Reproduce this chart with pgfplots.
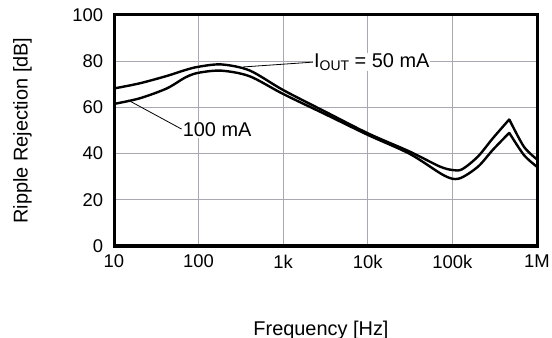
\documentclass[border=0pt]{standalone}
\usepackage{fontspec}
\setmainfont{Liberation Sans}
\usepackage{pgfplots}
\pgfplotsset{compat=1.18}
\definecolor{gridgray}{RGB}{168,168,178}
\begin{document}
\fontsize{20}{24}\selectfont
\begin{tikzpicture}
\useasboundingbox (-114bp,-92bp) rectangle (438bp,246bp);
\begin{axis}[
  at={(0,0)}, anchor=south west,
  scale only axis, width=423bp, height=231bp,
  xmode=log, xmin=10, xmax=1e6, ymin=0, ymax=100,
  xtick={10,100,1000,10000,100000,1000000},
  xticklabels={10,100,1k,10k,100k,1M},
  ytick={0,20,40,60,80,100},
  grid=major,
  major grid style={draw=gridgray, line width=1.2bp},
  major tick length=0.5bp, minor tick length=0.5bp,
  axis line style={line width=3bp},
  /pgf/number format/assume math mode=true,
  ticklabel style={font=\fontsize{18.5}{22}\selectfont},
  xticklabel style={yshift=-2bp},
  yticklabel style={xshift=-4bp},
  clip=false,
]
\addplot[black, line width=2.4bp, smooth, tension=0.5, line join=round] coordinates {
(10,68.2) (20,70.4) (42,73.6) (70,76.2) (100,77.6) (186,78.6) (400,76) (1000,67.5)
(3162,58.1) (10000,48.8) (31623,40.8) (70000,34.5) (100000,32.9) (130000,33.2)
(200000,38.7) (300000,46.6) (470000,54.8)};
\addplot[black, line width=2.4bp, smooth, tension=0.5, line cap=round] coordinates {
(470000,54.8) (700000,43) (1000000,37.5)};
\addplot[black, line width=2.4bp, smooth, tension=0.5, line join=round] coordinates {
(10,61.5) (20,63.9) (42,68.2) (70,73) (100,75) (186,75.9) (400,73.5) (1000,65.8)
(3162,57) (10000,48.1) (31623,39.8) (80000,30.5) (120000,29.2)
(200000,34.3) (300000,41.6) (470000,49.0)};
\addplot[black, line width=2.4bp, smooth, tension=0.5, line cap=round] coordinates {
(470000,49.0) (700000,39.4) (1000000,34.3)};
\draw[black, line width=0.8bp] (axis cs:335,77.5) -- (axis cs:2250,79.6);
\node[anchor=west, fill=white, inner sep=1bp] at (axis cs:2250,79.6)
  {I{\fontsize{14}{16}\selectfont\raisebox{-0.35ex}{OUT}} = 50 mA};
\draw[black, line width=0.8bp] (axis cs:14.6,63.2) -- (axis cs:63,50.6);
\node[anchor=west, fill=white, inner sep=1bp] at (axis cs:63,50.2) {100 mA};
\end{axis}
\node at (207bp,-84bp) {Frequency [Hz]};
\node[rotate=90] at (-91.5bp,115.5bp) {Ripple Rejection [dB]};
\end{tikzpicture}
\end{document}
